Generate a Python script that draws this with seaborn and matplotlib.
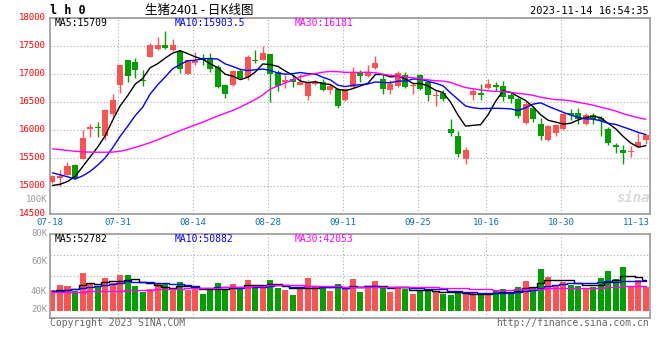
import numpy as np
import pandas as pd
import matplotlib
matplotlib.use("Agg")
import matplotlib.pyplot as plt
from matplotlib.transforms import ScaledTranslation
import seaborn as sns

# ---- data (生猪2401) ----
dates = ["07-18", "07-31", "08-14", "08-28", "09-11", "09-25", "10-16", "10-30", "11-13"]
date_idx = [0, 9, 19, 29, 39, 49, 58, 68, 78]

opens = [15080, 15140, 15200, 15370, 15490, 16020, 16055, 15885, 16290, 16797,
         17244, 17214, 16898, 17303, 17440, 17512, 17422, 17410, 17005, 17202,
         17280, 17280, 17125, 16809, 16797, 17053, 16946, 17256, 17256, 17363,
         17035, 16851, 16916, 16809, 16601, 16815, 16863, 16720, 16738, 16530,
         16767, 17035, 16958, 17107, 16916, 16720, 16779, 16976, 16779, 16988,
         16857, 16607, 16666, 16024, 15893, 15488, 16619, 16666, 16756, 16797,
         16779, 16619, 16559, 16125, 16398, 16113, 15815, 15952, 16024, 16309,
         16309, 16101, 16274, 16220, 16024, 15726, 15649, 15613, 15708, 15815]
highs = [15190, 15280, 15430, 15390, 16005, 16110, 16140, 16380, 16637, 17155,
         17256, 17291, 17077, 17553, 17660, 17767, 17630, 17422, 17256, 17393,
         17363, 17375, 17155, 16827, 17065, 17095, 17333, 17422, 17500, 17363,
         17065, 16976, 16976, 17006, 16887, 16887, 16916, 16827, 16756, 16756,
         17125, 17065, 17166, 17315, 17006, 16887, 17053, 17035, 16857, 17006,
         16887, 16708, 16708, 16202, 15982, 15696, 16756, 16815, 16916, 16857,
         16869, 16660, 16589, 16500, 16422, 16220, 16083, 16101, 16303, 16381,
         16398, 16303, 16303, 16244, 16054, 15768, 15726, 15708, 15946, 15922]
lows = [15050, 14995, 15190, 15130, 15490, 15875, 15875, 15815, 16232, 16666,
        16857, 16928, 16780, 17303, 17434, 17452, 17410, 17018, 16993, 17155,
        17155, 17035, 16756, 16577, 16779, 16916, 16887, 17196, 17244, 16500,
        16696, 16756, 16768, 16797, 16530, 16797, 16696, 16648, 16398, 16518,
        16756, 16857, 16946, 17095, 16637, 16637, 16767, 16756, 16637, 16720,
        16518, 16422, 16518, 15887, 15518, 15387, 16529, 16541, 16738, 16696,
        16518, 16482, 16220, 16113, 16143, 15827, 15803, 15887, 16006, 16172,
        16113, 16083, 16113, 15887, 15726, 15589, 15387, 15518, 15696, 15744]
closes = [15170, 15170, 15355, 15150, 15860, 16055, 16035, 16365, 16540, 17155,
          16958, 17065, 16869, 17512, 17512, 17458, 17512, 17095, 17244, 17226,
          17244, 17095, 16768, 16648, 17053, 16934, 17303, 17232, 17375, 16994,
          16779, 16887, 16857, 16857, 16845, 16863, 16720, 16779, 16422, 16738,
          17035, 16958, 17018, 17202, 16738, 16827, 17018, 16767, 16797, 16738,
          16619, 16631, 16559, 15946, 15565, 15649, 16696, 16619, 16827, 16767,
          16589, 16559, 16244, 16470, 16202, 15887, 16065, 16083, 16291, 16274,
          16190, 16274, 16202, 16160, 15768, 15696, 15589, 15625, 15785, 15904]
volumes = [35.6, 44.1, 42.4, 33.9, 65.0, 48.0, 40.1, 56.5, 48.0, 61.0,
           61.0, 42.4, 32.2, 36.7, 45.2, 45.8, 35.6, 49.2, 35.6, 40.1,
           28.8, 35.6, 47.5, 37.9, 45.8, 36.7, 52.5, 44.1, 41.2, 52.5,
           39.5, 35.6, 27.1, 36.7, 55.9, 40.1, 40.1, 33.9, 45.8, 38.4,
           54.2, 32.2, 38.4, 50.8, 38.4, 32.8, 40.7, 36.7, 28.8, 35.6,
           37.9, 33.9, 28.8, 27.1, 30.5, 28.8, 29.9, 30.5, 26.6, 35.6,
           37.3, 32.8, 40.7, 50.8, 39.0, 71.2, 57.6, 43.5, 49.7, 44.1,
           42.4, 39.5, 41.2, 55.9, 67.8, 54.2, 74.6, 42.9, 52.5, 40.1]  # thousands

# moving-average values before enough bars exist
ma5_head = [15010, 15030, 15080, 15170]
ma10_head = [15235, 15200, 15165, 15125, 15180, 15260, 15370, 15500, 15680]
ma30_head = [15665, 15650, 15635, 15620, 15610, 15605, 15603, 15603, 15605, 15620,
             15650, 15690, 15730, 15775, 15825, 15880, 15935, 15990, 16040, 16090,
             16140, 16195, 16250, 16300, 16350, 16410, 16475, 16545, 16625]
vma5_head = [34, 35, 36, 38]
vma10_head = [34, 34.5, 35.5, 36.5, 38.5, 40.5, 42, 44, 46]
vma30_head = [31.5, 31.8, 32.1, 32.4, 32.8, 33.2, 33.5, 33.9, 34.3, 34.7,
              35.1, 35.5, 35.8, 36.2, 36.6, 37.0, 37.4, 37.8, 38.2, 38.6,
              39.0, 39.4, 39.8, 40.2, 40.6, 41.0, 41.5, 42.0, 42.5]

RED = "#ff5353"
GREEN = "#00a000"
GRID = "#aaaaaa"
FRAME = "#999999"
W, H = 660, 360

df = pd.DataFrame({"open": opens, "high": highs, "low": lows,
                   "close": closes, "vol": volumes})
df["i"] = np.arange(len(df))
colors = np.where(df.close >= df.open, RED, GREEN)


def ma(s, n, head):
    m = s.rolling(n).mean()
    m.iloc[:n - 1] = head
    return m


df["ma5"] = ma(df.close, 5, ma5_head)
df["ma10"] = ma(df.close, 10, ma10_head)
df["ma30"] = ma(df.close, 30, ma30_head)
df["vma5"] = ma(df.vol, 5, vma5_head)
df["vma10"] = ma(df.vol, 10, vma10_head)
df["vma30"] = ma(df.vol, 30, vma30_head)

sns.set_style("white")
plt.rcParams["font.family"] = ["DejaVu Sans Mono", "Noto Sans CJK SC"]

fig = plt.figure(figsize=(W / 100, H / 100), dpi=100)
ax = fig.add_axes([50 / W, 1 - 214 / H, 600 / W, 196 / H])
axv = fig.add_axes([50 / W, 1 - 318 / H, 600 / W, 84 / H])


def ftext(x, y, s, **kw):
    fig.text(x / W, 1 - y / H, s, va="center", **kw)


# ---- price panel ----
ax.vlines(df.i, df.low, df.high, colors=colors, lw=1, zorder=2)
body = (df.close - df.open).abs().clip(lower=15)
ax.bar(df.i, body, bottom=np.minimum(df.open, df.close), width=0.8,
       color=colors, lw=0, zorder=3)
for col, c in [("ma5", "black"), ("ma10", "#0000ff"), ("ma30", "#ff00ff")]:
    sns.lineplot(x=df.i, y=df[col], color=c, lw=1, ax=ax, zorder=4)

ax.set_xlim(-0.33, 79.56)
ax.set_ylim(14500, 18000)
ax.set_yticks(range(14500, 18001, 500))
ax.set_yticklabels([str(v) for v in range(14500, 18001, 500)], color="#ff0000", fontsize=6.5)
ax.tick_params(axis="y", length=0, pad=3)
lift = ScaledTranslation(0, 2 / 100, fig.dpi_scale_trans)
for lbl in ax.get_yticklabels():
    lbl.set_transform(lbl.get_transform() + lift)
ax.set_xticks([])
ax.set_xlabel("")
ax.set_ylabel("")
ax.grid(axis="y", color=GRID, ls=(0, (1, 2)), lw=0.8)

# ---- volume panel ----
axv.bar(df.i, df.vol, width=0.8, color=colors, lw=0, zorder=2)
for col, c in [("vma5", "black"), ("vma10", "#0000ff"), ("vma30", "#ff00ff")]:
    sns.lineplot(x=df.i, y=df[col], color=c, lw=1, ax=axv, zorder=4,
                 drawstyle="steps-mid")
axv.set_xlim(-0.33, 79.56)
lo, hi = -11.9, 130.5
axv.set_ylim(lo, hi)
axv.set_yticks(np.linspace(lo, hi, 5)[1:-1])
axv.set_yticklabels([])
axv.tick_params(length=0)
axv.set_xticks([])
axv.set_xlabel("")
axv.set_ylabel("")
axv.grid(axis="y", color=GRID, ls=(0, (1, 2)), lw=0.8)

for a in (ax, axv):
    for i in date_idx[1:-1]:
        a.axvline(i - 0.3, color=GRID, ls=(0, (1, 2)), lw=0.8, zorder=1)
    for s in a.spines.values():
        s.set_color(FRAME)
        s.set_linewidth(1.2)

# date labels under the price panel
for d, i in zip(dates, date_idx):
    ax.text(i - 0.3, -0.043, d, transform=ax.get_xaxis_transform(), ha="center",
            va="center", fontsize=6.5, color="#0a6fc2")

# volume axis labels (drawn where Sina puts them)
for lab, y in [("100K", 200), ("80K", 233), ("60K", 262), ("40K", 291), ("20K", 310)]:
    ftext(47, y, lab, ha="right", fontsize=6.5, color="#999999")

# header
ftext(50, 10, "l h 0", ha="left", fontsize=8.5, fontweight="bold", color="black")
ftext(199, 10, "生猪2401 - 日K线图", ha="center", fontsize=9, color="black",
      family=["Noto Sans CJK SC", "DejaVu Sans"])
ftext(649, 11, "2023-11-14 16:54:35", ha="right", fontsize=7.5, color="black")

# MA captions
ftext(55, 23, "MA5:15709", ha="left", fontsize=7, color="black")
ftext(175, 23, "MA10:15903.5", ha="left", fontsize=7, color="#0000ff")
ftext(295, 23, "MA30:16181", ha="left", fontsize=7, color="#ff00ff")
ftext(55, 239, "MA5:52782", ha="left", fontsize=7, color="black")
ftext(175, 239, "MA10:50882", ha="left", fontsize=7, color="#0000ff")
ftext(295, 239, "MA30:42053", ha="left", fontsize=7, color="#ff00ff")

# footer + watermark
ftext(50, 323, "Copyright 2023 SINA.COM", ha="left", fontsize=7, color="#666666")
ftext(649, 323, "http://finance.sina.com.cn", ha="right", fontsize=7, color="#666666")
ftext(633, 198, "sina", ha="center", fontsize=10, fontweight="bold",
      style="italic", color="#d9d9d9")

fig.savefig("out.png", dpi=100)
